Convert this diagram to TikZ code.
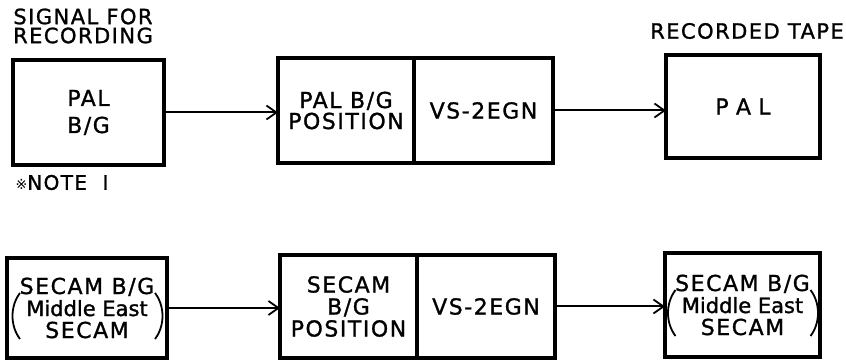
\documentclass[tikz,border=0pt]{standalone}
\usepackage{fontspec}
\setmainfont{DejaVu Sans}[LetterSpace=7, FakeBold=1.2]
\newfontfamily\symfont{DejaVu Sans}
\newfontfamily\plainfont{DejaVu Sans}[FakeBold=1.4]
\usepackage{tikz}
\usetikzlibrary{arrows.meta,calc,positioning}
\tikzset{blockbox/.style={draw=black, line width=3.2pt, inner sep=0pt, outer sep=0pt, align=center,
font=\fontsize{22}{#1}\selectfont}, blockbox/.default={27},
flowline/.style={line width=2pt, -{Straight Barb[length=10pt,width=14pt,line width=1.8pt]}},
paren/.style={line width=1.8pt}}
\newcommand{\mideast}{{\plainfont\fontsize{21}{22}\selectfont Middle East}}

\begin{document}
\begin{tikzpicture}[x=1pt, y=1pt, node distance=0pt]

    \useasboundingbox (0,0) rectangle (846,361);

% the PAL row

    \node[font=\fontsize{21}{19}\selectfont, align=center] (sigtitle) at (83,335) {SIGNAL FOR\\RECORDING};
    \node[font=\fontsize{21}{21}\selectfont] (tapetitle) at (747,330) {RECORDED TAPE};
    \node[font=\fontsize{20}{20}\selectfont] (note) at (62,178.5) {{\symfont\fontsize{14}{14}\selectfont ※}NOTE\ \ I};

    \node[blockbox, minimum width=151, minimum height=105] (palin) at (88.5,248.5) {PAL\\B/G};
    \node[blockbox=21, minimum width=136, minimum height=105] (palpos) at (346,250.5) {PAL B/G\\POSITION};
    \node[blockbox, minimum width=139, minimum height=105, right=of palpos] (palvcr) {VS-2EGN};
    \node[blockbox, minimum width=154, minimum height=103] (palout) at (743,254.5) {P\,\,A\,\,L};

    \draw[flowline] (palin.east) -- (palin.east -| palpos.west);
    \draw[flowline] (palvcr.east) -- (palvcr.east -| palout.west);

% the SECAM row

    \node[blockbox=22, minimum width=160, minimum height=100] (secin) at (87,53)
    {SECAM B/G\\\mideast\\SECAM};
    \node[blockbox=22, minimum width=137, minimum height=103] (secpos) at (348.5,54.5)
    {SECAM\\B/G\\POSITION};
    \node[blockbox, minimum width=138, minimum height=103, right=of secpos] (secvcr) {VS-2EGN};
    \node[blockbox=22, minimum width=155, minimum height=104] (secout) at (742.5,56)
    {SECAM B/G\\\mideast\\SECAM};

    \draw[flowline] (secin.east) -- (secin.east -| secpos.west);
    \draw[flowline] (secvcr.east) -- (secvcr.east -| secout.west);

    \draw[paren] ($(secin)+(-67,15)$) .. controls ($(secin)+(-77,2)$) and ($(secin)+(-77,-18)$) .. ($(secin)+(-67,-31)$);
    \draw[paren] ($(secin)+(68,15)$) .. controls ($(secin)+(78,2)$) and ($(secin)+(78,-18)$) .. ($(secin)+(68,-31)$);
    \draw[paren] ($(secout)+(-67,15)$) .. controls ($(secout)+(-77,2)$) and ($(secout)+(-77,-18)$) .. ($(secout)+(-67,-31)$);
    \draw[paren] ($(secout)+(68,15)$) .. controls ($(secout)+(78,2)$) and ($(secout)+(78,-18)$) .. ($(secout)+(68,-31)$);

\end{tikzpicture}
\end{document}
